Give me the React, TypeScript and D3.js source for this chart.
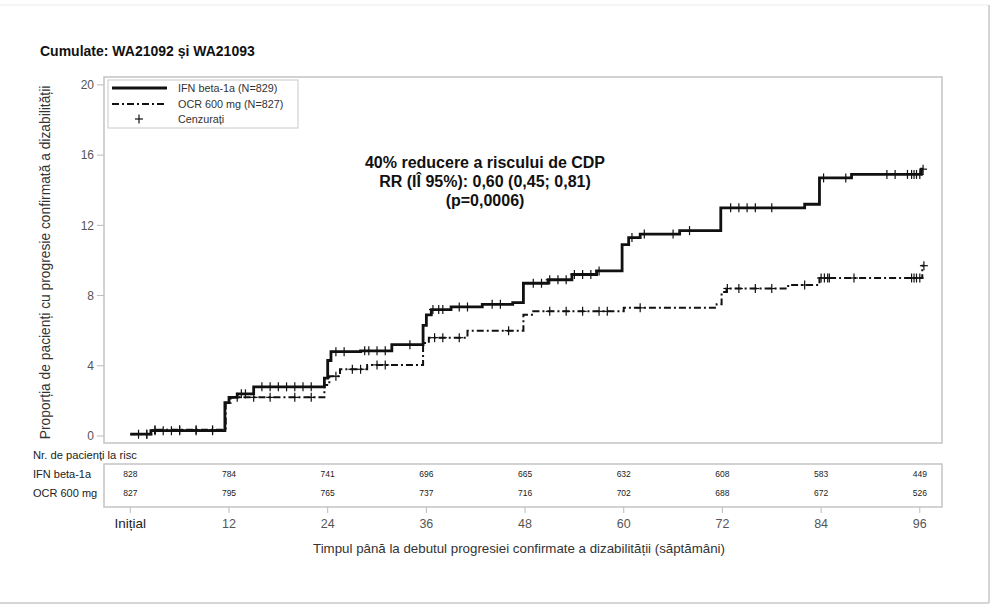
import * as d3 from 'd3';

// Kaplan-Meier step curves, cumulative % with confirmed disability progression
const ifnTimes = [0, 2.5, 11.5, 12, 13, 15, 23.6, 24, 24.4, 28, 31.8, 35.6, 36, 36.6, 39, 42.8, 46.5, 47.8, 50.8, 53.7, 56.7, 59.8, 60.6, 62, 66.8, 71.8, 82, 83.8, 87.7, 96.2];
const ifnPct = [0.1, 0.3, 1.9, 2.2, 2.4, 2.8, 3.3, 4.3, 4.8, 4.85, 5.2, 6.3, 6.9, 7.2, 7.35, 7.5, 7.6, 8.7, 8.9, 9.2, 9.4, 10.9, 11.3, 11.5, 11.7, 13.0, 13.2, 14.7, 14.9, 15.2];
const ifnEnd = 96.4;

const ocrTimes = [0, 3, 11.6, 12.2, 23.6, 24.2, 25.5, 28.8, 35.6, 36.3, 41, 47.8, 49, 60, 71.3, 71.9, 72.5, 80, 83.8, 96.3];
const ocrPct = [0.1, 0.35, 1.9, 2.2, 2.9, 3.4, 3.8, 4.05, 5.3, 5.6, 6.0, 6.9, 7.1, 7.3, 7.5, 8.2, 8.4, 8.6, 9.0, 9.7];
const ocrEnd = 96.5;

// censored observations (weeks)
const ifnCensored = [2, 3, 4, 5, 6, 8, 10, 13.5, 14, 16, 17, 18, 19, 20, 21, 22, 25, 26, 28.5, 29, 30, 31, 34, 36.8, 37.5, 38, 40, 41, 44, 45, 49, 50, 51, 52, 53, 54, 55, 56, 57, 61, 62.5, 66, 68, 73, 74, 75, 76, 78, 84.3, 87, 92, 93, 94.5, 95, 95.3, 95.6, 96, 96.4];
const ocrCensored = [1, 2, 3, 6, 8, 10, 13, 15, 17, 20, 22, 25, 27, 28, 30, 31, 37, 38, 40, 46, 51, 53, 55, 57, 58, 62, 72.6, 74, 76, 78, 82, 84, 84.4, 84.8, 85, 88, 95, 95.3, 95.6, 96, 96.5];

const weekTicks = [0, 12, 24, 36, 48, 60, 72, 84, 96];
const weekLabels = ['Inițial', '12', '24', '36', '48', '60', '72', '84', '96'];
const pctTicks = [0, 4, 8, 12, 16, 20];

const riskIfn = [828, 784, 741, 696, 665, 632, 608, 583, 449];
const riskOcr = [827, 795, 765, 737, 716, 702, 688, 672, 526];

const FONT = '"Liberation Sans", Arial, Helvetica, sans-serif';

const x = d3.scaleLinear().domain([-3.2, 98.7]).range([104, 942]);
const y = d3.scaleLinear().domain([-0.4, 20.45]).range([443, 77]);

const stepLine = d3
  .line<[number, number]>()
  .x((d) => x(d[0]))
  .y((d) => y(d[1]))
  .curve(d3.curveStepAfter);

function curvePoints(times: number[], pct: number[], end: number): [number, number][] {
  const pts = times.map((t, i) => [t, pct[i]] as [number, number]);
  pts.push([end, pct[pct.length - 1]]);
  return pts;
}

function levelAt(times: number[], pct: number[], t: number) {
  let v = pct[0];
  times.forEach((tt, i) => {
    if (tt <= t) v = pct[i];
  });
  return v;
}

function CensorMarks({ times, pct, cens }: { times: number[]; pct: number[]; cens: number[] }) {
  return (
    <g stroke="#111" strokeWidth={1.2}>
      {cens.map((t, i) => {
        const cx = x(t);
        const cy = y(levelAt(times, pct, t));
        return (
          <g key={i}>
            <line x1={cx - 4} x2={cx + 4} y1={cy} y2={cy} />
            <line x1={cx} x2={cx} y1={cy - 4.5} y2={cy + 4.5} />
          </g>
        );
      })}
    </g>
  );
}

export default function App() {
  const frameTop = 77;
  const frameBottom = 443;
  const tableTop = 464;
  const tableBottom = 507;
  const ocrDash = '7 3 2 3';

  return (
    <svg
      width={996}
      height={611}
      style={{ position: 'absolute', left: 0, top: 0, background: '#fff' }}
      fontFamily={FONT}
    >
      {/* outer image border */}
      <line x1={0} x2={989} y1={5} y2={5} stroke="#ececec" />
      <line x1={989} x2={989} y1={5} y2={603} stroke="#c8c8c8" strokeWidth={1.5} />
      <line x1={0} x2={989} y1={603} y2={603} stroke="#c8c8c8" strokeWidth={1.5} />

      <text x={40} y={56} fontSize={14} fontWeight="bold" fill="#111">
        Cumulate: WA21092 și WA21093
      </text>

      {/* plot frame */}
      <rect
        x={x.range()[0]}
        y={frameTop}
        width={x.range()[1] - x.range()[0]}
        height={frameBottom - frameTop}
        fill="none"
        stroke="#c4c4c4"
        strokeWidth={1.5}
      />

      {/* y axis */}
      {pctTicks.map((p) => (
        <g key={p}>
          <line x1={97} x2={104} y1={y(p)} y2={y(p)} stroke="#bbb" />
          <text x={94} y={y(p)} dy="0.35em" textAnchor="end" fontSize={12} fill="#555">
            {p}
          </text>
        </g>
      ))}
      <text
        transform={`translate(50,${(y(0) + y(20)) / 2 + 2}) rotate(-90)`}
        textAnchor="middle"
        fontSize={13.8}
        fill="#333"
      >
        Proporția de pacienți cu progresie confirmată a dizabilității
      </text>

      {/* survival curves */}
      <path
        d={stepLine(curvePoints(ocrTimes, ocrPct, ocrEnd)) || ''}
        fill="none"
        stroke="#111"
        strokeWidth={2}
        strokeDasharray={ocrDash}
      />
      <path
        d={stepLine(curvePoints(ifnTimes, ifnPct, ifnEnd)) || ''}
        fill="none"
        stroke="#111"
        strokeWidth={2.8}
      />
      <CensorMarks times={ocrTimes} pct={ocrPct} cens={ocrCensored} />
      <CensorMarks times={ifnTimes} pct={ifnPct} cens={ifnCensored} />

      {/* legend */}
      <rect x={108} y={80} width={190} height={48} fill="#fff" stroke="#c8c8c8" />
      <line x1={112} x2={167} y1={88} y2={88} stroke="#111" strokeWidth={2.8} />
      <line x1={112} x2={167} y1={104} y2={104} stroke="#111" strokeWidth={2} strokeDasharray={ocrDash} />
      <g stroke="#111" strokeWidth={1.2}>
        <line x1={135} x2={143} y1={119} y2={119} />
        <line x1={139} x2={139} y1={114.5} y2={123.5} />
      </g>
      <g fontSize={10.8} fill="#333">
        <text x={178} y={88} dy="0.35em">IFN beta-1a (N=829)</text>
        <text x={178} y={104} dy="0.35em">OCR 600 mg (N=827)</text>
        <text x={178} y={119} dy="0.35em">Cenzurați</text>
      </g>

      {/* hazard ratio annotation */}
      <g fontSize={16} fontWeight="bold" fill="#111" textAnchor="middle">
        <text x={485} y={168}>40% reducere a riscului de CDP</text>
        <text x={485} y={187}>RR (IÎ 95%): 0,60 (0,45; 0,81)</text>
        <text x={485} y={206}>(p=0,0006)</text>
      </g>

      {/* number at risk table */}
      <text x={33} y={459} fontSize={11.2} fill="#222">
        Nr. de pacienți la risc
      </text>
      <rect
        x={x.range()[0]}
        y={tableTop}
        width={x.range()[1] - x.range()[0]}
        height={tableBottom - tableTop}
        fill="none"
        stroke="#c4c4c4"
        strokeWidth={1.5}
      />
      <text x={33} y={474} dy="0.35em" fontSize={11} fill="#222">IFN beta-1a</text>
      <text x={33} y={493} dy="0.35em" fontSize={11} fill="#222">OCR 600 mg</text>
      <g fontSize={8.5} fill="#222" textAnchor="middle">
        {weekTicks.map((t, i) => (
          <g key={t}>
            <text x={x(t)} y={474} dy="0.35em">{riskIfn[i]}</text>
            <text x={x(t)} y={493} dy="0.35em">{riskOcr[i]}</text>
          </g>
        ))}
      </g>

      {/* x axis */}
      {weekTicks.map((t, i) => (
        <g key={t}>
          <line x1={x(t)} x2={x(t)} y1={tableBottom} y2={tableBottom + 6} stroke="#bbb" />
          <text
            x={x(t)}
            y={528}
            textAnchor="middle"
            fontSize={i === 0 ? 13.5 : 12.5}
            fill={i === 0 ? '#222' : '#555'}
          >
            {weekLabels[i]}
          </text>
        </g>
      ))}
      <text x={519} y={553} textAnchor="middle" fontSize={13.3} fill="#333">
        Timpul până la debutul progresiei confirmate a dizabilității (săptămâni)
      </text>
    </svg>
  );
}
